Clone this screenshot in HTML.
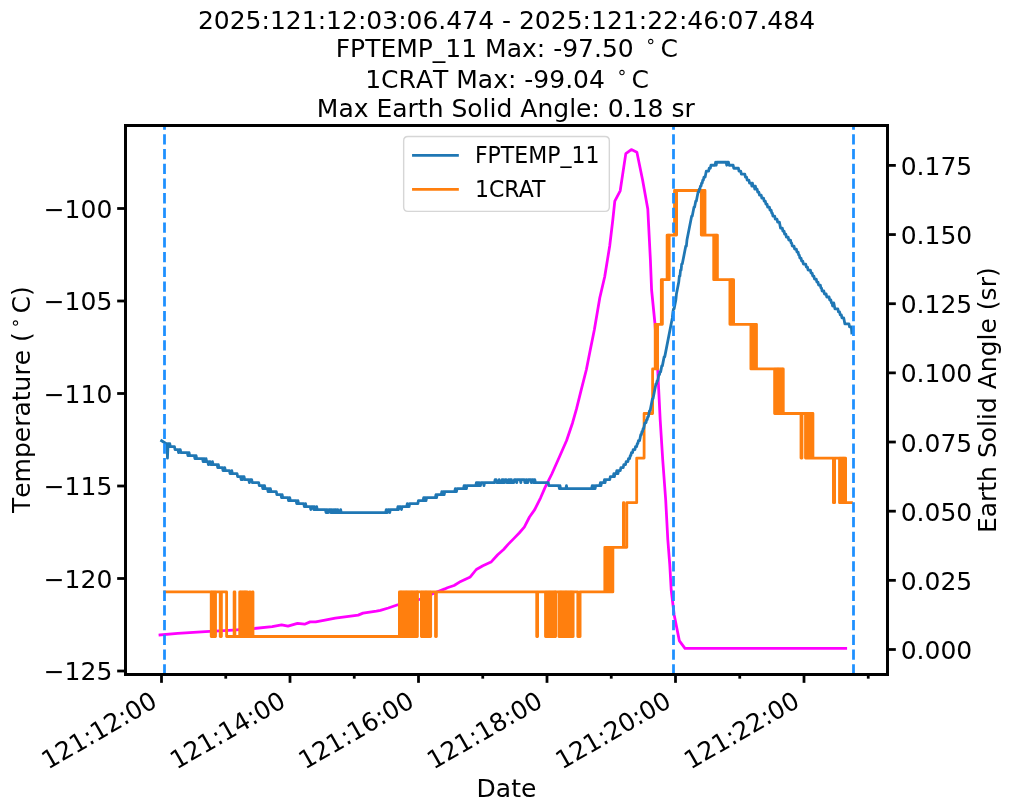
<!DOCTYPE html>
<html><head><meta charset="utf-8"><title>FPTEMP_11 / 1CRAT plot</title>
<style>html,body{margin:0;padding:0;background:#fff;width:1011px;height:811px;overflow:hidden}svg{display:block;will-change:transform}</style>
</head><body>
<svg width="1011" height="811" viewBox="0 0 727.92 583.92" version="1.1">

<defs>
<style type="text/css">*{stroke-linejoin: round; stroke-linecap: butt}</style>
</defs>
<g id="figure_1">
<g id="patch_1">
<path d="M 0 583.92
L 727.92 583.92
L 727.92 0
L 0 0
z
" style="fill: #ffffff"/>
</g>
<g id="axes_1">
<g id="matplotlib.axis_1">
<g id="ytick_1">
<g id="line2d_1">

<g>
<path d="M 0 0
L 6 0
" transform="translate(639 467.64)" style="stroke: #000000; stroke-width: 2"/>
</g>
</g>
<g id="text_1">
<text style="font-size: 18px; font-family: 'DejaVu Sans', 'Liberation Sans', sans-serif; text-anchor: start" x="648.5" y="474.478" transform="rotate(-0 648.5 474.478)">0.000</text>
</g>
</g>
<g id="ytick_2">
<g id="line2d_2">
<g>
<path d="M 0 0
L 6 0
" transform="translate(639 417.846)" style="stroke: #000000; stroke-width: 2"/>
</g>
</g>
<g id="text_2">
<text style="font-size: 18px; font-family: 'DejaVu Sans', 'Liberation Sans', sans-serif; text-anchor: start" x="648.5" y="424.685" transform="rotate(-0 648.5 424.685)">0.025</text>
</g>
</g>
<g id="ytick_3">
<g id="line2d_3">
<g>
<path d="M 0 0
L 6 0
" transform="translate(639 368.053)" style="stroke: #000000; stroke-width: 2"/>
</g>
</g>
<g id="text_3">
<text style="font-size: 18px; font-family: 'DejaVu Sans', 'Liberation Sans', sans-serif; text-anchor: start" x="648.5" y="374.891" transform="rotate(-0 648.5 374.891)">0.050</text>
</g>
</g>
<g id="ytick_4">
<g id="line2d_4">
<g>
<path d="M 0 0
L 6 0
" transform="translate(639 318.259)" style="stroke: #000000; stroke-width: 2"/>
</g>
</g>
<g id="text_4">
<text style="font-size: 18px; font-family: 'DejaVu Sans', 'Liberation Sans', sans-serif; text-anchor: start" x="648.5" y="325.098" transform="rotate(-0 648.5 325.098)">0.075</text>
</g>
</g>
<g id="ytick_5">
<g id="line2d_5">
<g>
<path d="M 0 0
L 6 0
" transform="translate(639 268.466)" style="stroke: #000000; stroke-width: 2"/>
</g>
</g>
<g id="text_5">
<text style="font-size: 18px; font-family: 'DejaVu Sans', 'Liberation Sans', sans-serif; text-anchor: start" x="648.5" y="275.304" transform="rotate(-0 648.5 275.304)">0.100</text>
</g>
</g>
<g id="ytick_6">
<g id="line2d_6">
<g>
<path d="M 0 0
L 6 0
" transform="translate(639 218.673)" style="stroke: #000000; stroke-width: 2"/>
</g>
</g>
<g id="text_6">
<text style="font-size: 18px; font-family: 'DejaVu Sans', 'Liberation Sans', sans-serif; text-anchor: start" x="648.5" y="225.511" transform="rotate(-0 648.5 225.511)">0.125</text>
</g>
</g>
<g id="ytick_7">
<g id="line2d_7">
<g>
<path d="M 0 0
L 6 0
" transform="translate(639 168.879)" style="stroke: #000000; stroke-width: 2"/>
</g>
</g>
<g id="text_7">
<text style="font-size: 18px; font-family: 'DejaVu Sans', 'Liberation Sans', sans-serif; text-anchor: start" x="648.5" y="175.718" transform="rotate(-0 648.5 175.718)">0.150</text>
</g>
</g>
<g id="ytick_8">
<g id="line2d_8">
<g>
<path d="M 0 0
L 6 0
" transform="translate(639 119.086)" style="stroke: #000000; stroke-width: 2"/>
</g>
</g>
<g id="text_8">
<text style="font-size: 18px; font-family: 'DejaVu Sans', 'Liberation Sans', sans-serif; text-anchor: start" x="648.5" y="125.924" transform="rotate(-0 648.5 125.924)">0.175</text>
</g>
</g>
<g id="ylab2" transform="translate(-0.317 0.144)">
<text style="font-size: 18px; font-family: 'DejaVu Sans', 'Liberation Sans', sans-serif; text-anchor: middle" x="717.707" y="288" transform="rotate(-90 717.707 288)">Earth Solid Angle (sr)</text>
</g>
</g>
<g id="line2d_9">
<path d="M 115.2 457.2
L 127.944 455.976
L 147.888 454.824
L 167.832 453.672
L 182.304 452.592
L 195.984 451.152
L 202.752 449.928
L 207.36 450.864
L 214.2 448.848
L 219.312 449.424
L 223.272 447.768
L 227.304 447.768
L 234 446.544
L 241.416 445.104
L 251.064 443.736
L 257.904 442.872
L 261.36 441.432
L 271.008 439.992
L 273.888 439.416
L 279.576 437.76
L 286.416 435.456
L 302.04 431.64
L 314.928 426.024
L 320.256 424.008
L 322.128 423.144
L 326.952 421.56
L 331.704 418.608
L 338.616 415.368
L 342.936 410.04
L 347.688 407.376
L 353.52 404.712
L 358.344 399.384
L 362.592 395.64
L 365.832 391.968
L 370.08 387.648
L 373.824 383.76
L 377.496 379.512
L 381.24 372.24
L 384.984 366.912
L 389.232 358.416
L 392.472 350.928
L 397.296 341.28
L 402.984 328.536
L 407.952 317.16
L 412.272 304.344
L 415.08 294.408
L 418.608 280.224
L 422.208 266.04
L 425.016 251.784
L 427.896 237.6
L 431.856 214.416
L 435.384 199.296
L 438.984 177.12
L 441.216 158.4
L 442.656 144.864
L 446.544 137.376
L 450.576 110.592
L 454.536 107.712
L 458.568 109.656
L 462.672 129.6
L 466.416 150.48
L 468.288 187.2
L 469.152 208.8
L 471.6 233.28
L 473.472 264.744
L 475.344 302.4
L 477.144 330.84
L 479.304 360
L 480.816 388.44
L 482.256 406.872
L 483.264 424.8
L 485.424 442.8
L 489.168 461.448
L 493.2 466.848
L 608.904 466.848
" clip-path="url(#p6ccd2aaa40)" style="fill: none; stroke: #ff00ff; stroke-width: 2; stroke-linecap: square"/>
</g>
<g id="patch_2">
<path d="M 90.36 485.64
L 90.36 90.36
" style="fill: none; stroke: #000000; stroke-width: 2; stroke-linejoin: miter; stroke-linecap: square"/>
</g>
<g id="patch_3">
<path d="M 639 485.64
L 639 90.36
" style="fill: none; stroke: #000000; stroke-width: 2; stroke-linejoin: miter; stroke-linecap: square"/>
</g>
<g id="patch_4">
<path d="M 90.36 485.64
L 639 485.64
" style="fill: none; stroke: #000000; stroke-width: 2; stroke-linejoin: miter; stroke-linecap: square"/>
</g>
<g id="patch_5">
<path d="M 90.36 90.36
L 639 90.36
" style="fill: none; stroke: #000000; stroke-width: 2; stroke-linejoin: miter; stroke-linecap: square"/>
</g>
</g>
<g id="axes_2">
<g id="matplotlib.axis_2">
<g id="xtick_1">
<g id="line2d_10">

<g>
<path d="M 0 0
L 0 6
" transform="translate(116.28 485.64)" style="stroke: #000000; stroke-width: 2"/>
</g>
</g>
<g id="xtl0" transform="translate(0.000 1.138)">
<text style="font-size: 18px; font-family: 'DejaVu Sans', 'Liberation Sans', sans-serif" transform="translate(34.478 553.132) rotate(-30)">121:12:00</text>
</g>
</g>
<g id="xtick_2">
<g id="line2d_11">
<g>
<path d="M 0 0
L 0 6
" transform="translate(208.8 485.64)" style="stroke: #000000; stroke-width: 2"/>
</g>
</g>
<g id="xtl1" transform="translate(0.000 1.138)">
<text style="font-size: 18px; font-family: 'DejaVu Sans', 'Liberation Sans', sans-serif" transform="translate(126.998 553.132) rotate(-30)">121:14:00</text>
</g>
</g>
<g id="xtick_3">
<g id="line2d_12">
<g>
<path d="M 0 0
L 0 6
" transform="translate(301.32 485.64)" style="stroke: #000000; stroke-width: 2"/>
</g>
</g>
<g id="xtl2" transform="translate(0.000 1.138)">
<text style="font-size: 18px; font-family: 'DejaVu Sans', 'Liberation Sans', sans-serif" transform="translate(219.518 553.132) rotate(-30)">121:16:00</text>
</g>
</g>
<g id="xtick_4">
<g id="line2d_13">
<g>
<path d="M 0 0
L 0 6
" transform="translate(393.84 485.64)" style="stroke: #000000; stroke-width: 2"/>
</g>
</g>
<g id="xtl3" transform="translate(0.000 1.138)">
<text style="font-size: 18px; font-family: 'DejaVu Sans', 'Liberation Sans', sans-serif" transform="translate(312.038 553.132) rotate(-30)">121:18:00</text>
</g>
</g>
<g id="xtick_5">
<g id="line2d_14">
<g>
<path d="M 0 0
L 0 6
" transform="translate(486.36 485.64)" style="stroke: #000000; stroke-width: 2"/>
</g>
</g>
<g id="xtl4" transform="translate(0.000 1.138)">
<text style="font-size: 18px; font-family: 'DejaVu Sans', 'Liberation Sans', sans-serif" transform="translate(404.558 553.132) rotate(-30)">121:20:00</text>
</g>
</g>
<g id="xtick_6">
<g id="line2d_15">
<g>
<path d="M 0 0
L 0 6
" transform="translate(578.88 485.64)" style="stroke: #000000; stroke-width: 2"/>
</g>
</g>
<g id="xtl5" transform="translate(0.000 1.138)">
<text style="font-size: 18px; font-family: 'DejaVu Sans', 'Liberation Sans', sans-serif" transform="translate(497.078 553.132) rotate(-30)">121:22:00</text>
</g>
</g>
<g id="xtick_7">
<g id="line2d_16">

<g>
<path d="M 0 0
L 0 3
" transform="translate(162.54 485.64)" style="stroke: #000000; stroke-width: 2"/>
</g>
</g>
</g>
<g id="xtick_8">
<g id="line2d_17">
<g>
<path d="M 0 0
L 0 3
" transform="translate(255.06 485.64)" style="stroke: #000000; stroke-width: 2"/>
</g>
</g>
</g>
<g id="xtick_9">
<g id="line2d_18">
<g>
<path d="M 0 0
L 0 3
" transform="translate(347.58 485.64)" style="stroke: #000000; stroke-width: 2"/>
</g>
</g>
</g>
<g id="xtick_10">
<g id="line2d_19">
<g>
<path d="M 0 0
L 0 3
" transform="translate(440.1 485.64)" style="stroke: #000000; stroke-width: 2"/>
</g>
</g>
</g>
<g id="xtick_11">
<g id="line2d_20">
<g>
<path d="M 0 0
L 0 3
" transform="translate(532.62 485.64)" style="stroke: #000000; stroke-width: 2"/>
</g>
</g>
</g>
<g id="xtick_12">
<g id="line2d_21">
<g>
<path d="M 0 0
L 0 3
" transform="translate(625.14 485.64)" style="stroke: #000000; stroke-width: 2"/>
</g>
</g>
</g>
<g id="xlab">
<text style="font-size: 18px; font-family: 'DejaVu Sans', 'Liberation Sans', sans-serif; text-anchor: middle" x="364.68" y="574.051" transform="rotate(-0 364.68 574.051)">Date</text>
</g>
</g>
<g id="matplotlib.axis_3">
<g id="ytick_9">
<g id="line2d_22">

<g>
<path d="M 0 0
L -6 0
" transform="translate(90.36 483.12)" style="stroke: #000000; stroke-width: 2"/>
</g>
</g>
<g id="text_9">
<text style="font-size: 18px; font-family: 'DejaVu Sans', 'Liberation Sans', sans-serif; text-anchor: end" x="80.86" y="489.958" transform="rotate(-0 80.86 489.958)">−125</text>
</g>
</g>
<g id="ytick_10">
<g id="line2d_23">
<g>
<path d="M 0 0
L -6 0
" transform="translate(90.36 416.52)" style="stroke: #000000; stroke-width: 2"/>
</g>
</g>
<g id="text_10">
<text style="font-size: 18px; font-family: 'DejaVu Sans', 'Liberation Sans', sans-serif; text-anchor: end" x="80.86" y="423.358" transform="rotate(-0 80.86 423.358)">−120</text>
</g>
</g>
<g id="ytick_11">
<g id="line2d_24">
<g>
<path d="M 0 0
L -6 0
" transform="translate(90.36 349.92)" style="stroke: #000000; stroke-width: 2"/>
</g>
</g>
<g id="text_11">
<text style="font-size: 18px; font-family: 'DejaVu Sans', 'Liberation Sans', sans-serif; text-anchor: end" x="80.86" y="356.758" transform="rotate(-0 80.86 356.758)">−115</text>
</g>
</g>
<g id="ytick_12">
<g id="line2d_25">
<g>
<path d="M 0 0
L -6 0
" transform="translate(90.36 283.32)" style="stroke: #000000; stroke-width: 2"/>
</g>
</g>
<g id="text_12">
<text style="font-size: 18px; font-family: 'DejaVu Sans', 'Liberation Sans', sans-serif; text-anchor: end" x="80.86" y="290.158" transform="rotate(-0 80.86 290.158)">−110</text>
</g>
</g>
<g id="ytick_13">
<g id="line2d_26">
<g>
<path d="M 0 0
L -6 0
" transform="translate(90.36 216.72)" style="stroke: #000000; stroke-width: 2"/>
</g>
</g>
<g id="text_13">
<text style="font-size: 18px; font-family: 'DejaVu Sans', 'Liberation Sans', sans-serif; text-anchor: end" x="80.86" y="223.558" transform="rotate(-0 80.86 223.558)">−105</text>
</g>
</g>
<g id="ytick_14">
<g id="line2d_27">
<g>
<path d="M 0 0
L -6 0
" transform="translate(90.36 150.12)" style="stroke: #000000; stroke-width: 2"/>
</g>
</g>
<g id="text_14">
<text style="font-size: 18px; font-family: 'DejaVu Sans', 'Liberation Sans', sans-serif; text-anchor: end" x="80.86" y="156.958" transform="rotate(-0 80.86 156.958)">−100</text>
</g>
</g>
<g id="ylab1" transform="translate(-1.440 -0.288)">

<g transform="translate(23.639 369.72) rotate(-90)">
<text>
<tspan x="0" y="-0.343" style="font-size: 18px; font-family: 'DejaVu Sans', 'Liberation Sans', sans-serif">T</tspan>
<tspan x="10.995" y="-0.343" style="font-size: 18px; font-family: 'DejaVu Sans', 'Liberation Sans', sans-serif">e</tspan>
<tspan x="22.069" y="-0.343" style="font-size: 18px; font-family: 'DejaVu Sans', 'Liberation Sans', sans-serif">m</tspan>
<tspan x="39.603" y="-0.343" style="font-size: 18px; font-family: 'DejaVu Sans', 'Liberation Sans', sans-serif">p</tspan>
<tspan x="51.029" y="-0.343" style="font-size: 18px; font-family: 'DejaVu Sans', 'Liberation Sans', sans-serif">e</tspan>
<tspan x="62.103" y="-0.343" style="font-size: 18px; font-family: 'DejaVu Sans', 'Liberation Sans', sans-serif">r</tspan>
<tspan x="69.503" y="-0.343" style="font-size: 18px; font-family: 'DejaVu Sans', 'Liberation Sans', sans-serif">a</tspan>
<tspan x="80.534" y="-0.343" style="font-size: 18px; font-family: 'DejaVu Sans', 'Liberation Sans', sans-serif">t</tspan>
<tspan x="87.591" y="-0.343" style="font-size: 18px; font-family: 'DejaVu Sans', 'Liberation Sans', sans-serif">u</tspan>
<tspan x="99" y="-0.343" style="font-size: 18px; font-family: 'DejaVu Sans', 'Liberation Sans', sans-serif">r</tspan>
<tspan x="106.400" y="-0.343" style="font-size: 18px; font-family: 'DejaVu Sans', 'Liberation Sans', sans-serif">e</tspan>
<tspan x="117.474" y="-0.343" style="font-size: 18px; font-family: 'DejaVu Sans', 'Liberation Sans', sans-serif"> </tspan>
<tspan x="123.196" y="-0.343" style="font-size: 18px; font-family: 'DejaVu Sans', 'Liberation Sans', sans-serif">(</tspan>
<tspan x="143.680" y="-0.343" style="font-size: 18px; font-family: 'DejaVu Sans', 'Liberation Sans', sans-serif">C</tspan>
<tspan x="156.248" y="-0.343" style="font-size: 18px; font-family: 'DejaVu Sans', 'Liberation Sans', sans-serif">)</tspan>
<tspan x="132.845" y="-7.234" style="font-size: 12.6px; font-family: 'DejaVu Sans', 'Liberation Sans', sans-serif">∘</tspan>
</text>
</g>
</g>
</g>
<g id="line2d_28">
<path d="M 118.656 426.168
L 152.064 426.168
L 152.064 458.28
L 152.510 458.28
L 152.510 426.168
L 152.956 426.168
L 152.956 458.28
L 153.403 458.28
L 153.403 426.168
L 153.849 426.168
L 153.849 458.28
L 154.296 458.28
L 154.296 426.168
L 154.742 426.168
L 154.742 458.28
L 155.188 458.28
L 155.188 426.168
L 158.544 426.168
L 158.544 458.28
L 159.408 458.28
L 159.408 426.168
L 163.152 426.168
L 163.152 458.28
L 168.552 458.28
L 168.552 426.168
L 169.128 426.168
L 169.128 458.28
L 172.584 458.28
L 172.584 426.168
L 173.030 426.168
L 173.030 458.28
L 173.476 458.28
L 173.476 426.168
L 173.923 426.168
L 173.923 458.28
L 174.369 458.28
L 174.369 426.168
L 174.816 426.168
L 174.816 458.28
L 175.262 458.28
L 175.262 426.168
L 175.708 426.168
L 175.708 458.28
L 176.155 458.28
L 176.155 426.168
L 176.601 426.168
L 176.601 458.28
L 177.048 458.28
L 177.048 426.168
L 177.494 426.168
L 177.494 458.28
L 177.940 458.28
L 177.940 426.168
L 178.056 426.168
L 178.056 458.28
L 179.712 458.28
L 179.712 426.168
L 180.144 426.168
L 180.144 458.28
L 181.728 458.28
L 181.728 426.168
L 182.16 426.168
L 182.16 458.28
L 287.568 458.28
L 287.568 426.168
L 288.014 426.168
L 288.014 458.28
L 288.460 458.28
L 288.460 426.168
L 288.907 426.168
L 288.907 458.28
L 289.353 458.28
L 289.353 426.168
L 289.8 426.168
L 289.8 458.28
L 290.246 458.28
L 290.246 426.168
L 290.692 426.168
L 290.692 458.28
L 291.139 458.28
L 291.139 426.168
L 291.585 426.168
L 291.585 458.28
L 292.032 458.28
L 292.032 426.168
L 292.478 426.168
L 292.478 458.28
L 292.924 458.28
L 292.924 426.168
L 293.371 426.168
L 293.371 458.28
L 293.817 458.28
L 293.817 426.168
L 294.264 426.168
L 294.264 458.28
L 294.710 458.28
L 294.710 426.168
L 295.156 426.168
L 295.156 458.28
L 295.603 458.28
L 295.603 426.168
L 296.049 426.168
L 296.049 458.28
L 296.496 458.28
L 296.496 426.168
L 296.942 426.168
L 296.942 458.28
L 297.388 458.28
L 297.388 426.168
L 297.835 426.168
L 297.835 458.28
L 298.281 458.28
L 298.281 426.168
L 298.728 426.168
L 298.728 458.28
L 299.174 458.28
L 299.174 426.168
L 299.620 426.168
L 299.620 458.28
L 300.067 458.28
L 300.067 426.168
L 300.513 426.168
L 300.513 458.28
L 300.6 426.168
L 303.408 426.168
L 303.408 458.28
L 303.854 458.28
L 303.854 426.168
L 304.300 426.168
L 304.300 458.28
L 304.747 458.28
L 304.747 426.168
L 305.193 426.168
L 305.193 458.28
L 305.64 458.28
L 305.64 426.168
L 306.086 426.168
L 306.086 458.28
L 306.532 458.28
L 306.532 426.168
L 306.979 426.168
L 306.979 458.28
L 307.425 458.28
L 307.425 426.168
L 307.872 426.168
L 307.872 458.28
L 308.318 458.28
L 308.318 426.168
L 308.764 426.168
L 308.764 458.28
L 309.211 458.28
L 309.211 426.168
L 309.657 426.168
L 309.657 458.28
L 310.104 458.28
L 310.104 426.168
L 313.56 426.168
L 313.56 458.28
L 314.208 458.28
L 314.208 426.168
L 386.424 426.168
L 386.424 458.28
L 387.072 458.28
L 387.072 426.168
L 392.76 426.168
L 392.76 458.28
L 393.206 458.28
L 393.206 426.168
L 393.652 426.168
L 393.652 458.28
L 394.099 458.28
L 394.099 426.168
L 394.545 426.168
L 394.545 458.28
L 394.992 458.28
L 394.992 426.168
L 395.438 426.168
L 395.438 458.28
L 395.884 458.28
L 395.884 426.168
L 396.331 426.168
L 396.331 458.28
L 396.777 458.28
L 396.777 426.168
L 397.224 426.168
L 397.224 458.28
L 397.670 458.28
L 397.670 426.168
L 398.116 426.168
L 398.116 458.28
L 398.563 458.28
L 398.563 426.168
L 399.009 426.168
L 399.009 458.28
L 399.456 458.28
L 399.456 426.168
L 399.902 426.168
L 399.902 458.28
L 400.032 458.28
L 400.032 426.168
L 402.408 426.168
L 402.408 458.28
L 402.854 458.28
L 402.854 426.168
L 403.300 426.168
L 403.300 458.28
L 403.747 458.28
L 403.747 426.168
L 404.193 426.168
L 404.193 458.28
L 404.64 458.28
L 404.64 426.168
L 405.086 426.168
L 405.086 458.28
L 405.532 458.28
L 405.532 426.168
L 405.979 426.168
L 405.979 458.28
L 406.425 458.28
L 406.425 426.168
L 406.872 426.168
L 406.872 458.28
L 407.318 458.28
L 407.318 426.168
L 407.764 426.168
L 407.764 458.28
L 408.211 458.28
L 408.211 426.168
L 408.657 426.168
L 408.657 458.28
L 409.104 458.28
L 409.104 426.168
L 409.550 426.168
L 409.550 458.28
L 409.996 458.28
L 409.996 426.168
L 410.443 426.168
L 410.443 458.28
L 410.889 458.28
L 410.889 426.168
L 411.336 426.168
L 411.336 458.28
L 411.782 458.28
L 411.782 426.168
L 412.228 426.168
L 412.228 458.28
L 412.675 458.28
L 412.675 426.168
L 416.016 426.168
L 416.016 458.28
L 417.672 458.28
L 417.672 426.168
L 435.456 426.168
L 435.456 394.056
L 435.902 394.056
L 435.902 426.168
L 436.348 426.168
L 436.348 394.056
L 436.795 394.056
L 436.795 426.168
L 437.241 426.168
L 437.241 394.056
L 437.688 394.056
L 437.688 426.168
L 438.134 426.168
L 438.134 394.056
L 438.580 394.056
L 438.580 426.168
L 439.027 426.168
L 439.027 394.056
L 439.473 394.056
L 439.473 426.168
L 439.92 426.168
L 439.92 394.056
L 440.366 394.056
L 440.366 426.168
L 440.812 426.168
L 440.812 394.056
L 441.259 394.056
L 441.259 426.168
L 441.288 394.056
L 448.848 394.056
L 448.848 361.944
L 449.208 361.944
L 449.208 394.056
L 451.296 394.056
L 451.296 361.944
L 458.424 361.944
L 458.424 329.832
L 463.752 329.832
L 463.752 297.72
L 469.872 297.72
L 469.872 265.608
L 471.744 265.608
L 471.744 233.496
L 472.190 233.496
L 472.190 265.608
L 472.636 265.608
L 472.636 233.496
L 473.083 233.496
L 473.083 265.608
L 473.472 265.608
L 473.472 233.496
L 476.136 233.496
L 476.136 201.384
L 476.582 201.384
L 476.582 233.496
L 476.928 233.496
L 476.928 201.384
L 480.312 201.384
L 480.312 169.272
L 480.758 169.272
L 480.758 201.384
L 481.204 201.384
L 481.204 169.272
L 481.651 169.272
L 481.651 201.384
L 481.824 201.384
L 481.824 169.272
L 485.64 169.272
L 485.64 137.16
L 486.086 137.16
L 486.086 169.272
L 486.532 169.272
L 486.532 137.16
L 486.979 137.16
L 486.979 169.272
L 487.152 169.272
L 487.152 137.16
L 504.936 137.16
L 504.936 169.272
L 505.382 169.272
L 505.382 137.16
L 505.828 137.16
L 505.828 169.272
L 506.275 169.272
L 506.275 137.16
L 506.721 137.16
L 506.721 169.272
L 507.168 169.272
L 507.168 137.16
L 507.614 137.16
L 507.614 169.272
L 513.864 169.272
L 513.864 201.384
L 514.310 201.384
L 514.310 169.272
L 514.756 169.272
L 514.756 201.384
L 515.203 201.384
L 515.203 169.272
L 515.649 169.272
L 515.649 201.384
L 516.096 201.384
L 516.096 169.272
L 516.542 169.272
L 516.542 201.384
L 525.528 201.384
L 525.528 233.496
L 525.974 233.496
L 525.974 201.384
L 526.420 201.384
L 526.420 233.496
L 526.867 233.496
L 526.867 201.384
L 527.313 201.384
L 527.313 233.496
L 527.76 233.496
L 527.76 201.384
L 528.192 201.384
L 528.192 233.496
L 540.648 233.496
L 540.648 265.608
L 541.094 265.608
L 541.094 233.496
L 541.540 233.496
L 541.540 265.608
L 541.987 265.608
L 541.987 233.496
L 542.433 233.496
L 542.433 265.608
L 542.88 265.608
L 542.88 233.496
L 543.326 233.496
L 543.326 265.608
L 543.772 265.608
L 543.772 233.496
L 544.219 233.496
L 544.219 265.608
L 544.665 265.608
L 544.665 233.496
L 544.68 265.608
L 557.712 265.608
L 557.712 297.72
L 558.158 297.72
L 558.158 265.608
L 558.604 265.608
L 558.604 297.72
L 559.051 297.72
L 559.051 265.608
L 559.497 265.608
L 559.497 297.72
L 559.944 297.72
L 559.944 265.608
L 560.390 265.608
L 560.390 297.72
L 560.836 297.72
L 560.836 265.608
L 561.283 265.608
L 561.283 297.72
L 561.729 297.72
L 561.729 265.608
L 562.176 265.608
L 562.176 297.72
L 562.622 297.72
L 562.622 265.608
L 563.068 265.608
L 563.068 297.72
L 563.515 297.72
L 563.515 265.608
L 563.961 265.608
L 563.961 297.72
L 576.72 297.72
L 576.72 329.832
L 577.44 329.832
L 577.44 297.72
L 579.96 297.72
L 579.96 329.832
L 580.406 329.832
L 580.406 297.72
L 580.852 297.72
L 580.852 329.832
L 581.299 329.832
L 581.299 297.72
L 581.745 297.72
L 581.745 329.832
L 582.192 329.832
L 582.192 297.72
L 582.638 297.72
L 582.638 329.832
L 583.084 329.832
L 583.084 297.72
L 583.531 297.72
L 583.531 329.832
L 583.977 329.832
L 583.977 297.72
L 584.424 297.72
L 584.424 329.832
L 584.870 329.832
L 584.870 297.72
L 585.316 297.72
L 585.316 329.832
L 600.048 329.832
L 600.048 361.944
L 600.912 361.944
L 600.912 329.832
L 604.44 329.832
L 604.44 361.944
L 604.886 361.944
L 604.886 329.832
L 605.332 329.832
L 605.332 361.944
L 605.779 361.944
L 605.779 329.832
L 606.225 329.832
L 606.225 361.944
L 606.672 361.944
L 606.672 329.832
L 607.118 329.832
L 607.118 361.944
L 607.564 361.944
L 607.564 329.832
L 608.011 329.832
L 608.011 361.944
L 608.457 361.944
L 608.457 329.832
L 608.832 329.832
L 608.832 361.944
L 613.08 361.944
L 613.08 361.944
" clip-path="url(#p061c2c0047)" style="fill: none; stroke: #ff7f0e; stroke-width: 2; stroke-linecap: square"/>
</g>
<g id="line2d_29">
<path d="M 116.352 317.328
L 119.736 319.484
L 120.157 319.484
L 120.578 329.904
L 120.999 319.484
L 121.420 319.484
L 121.842 321.64
L 122.263 319.484
L 122.684 321.64
L 125.632 321.64
L 126.054 323.796
L 128.16 323.796
L 128.581 325.952
L 129.002 323.796
L 129.844 323.796
L 130.266 325.952
L 134.899 325.952
L 135.320 328.108
L 135.741 325.952
L 136.162 325.952
L 136.584 328.108
L 139.953 328.108
L 140.374 330.264
L 140.796 328.108
L 141.217 328.108
L 141.638 330.264
L 145.850 330.264
L 146.271 332.42
L 146.692 330.264
L 147.114 330.264
L 147.535 332.42
L 147.956 332.42
L 148.377 330.264
L 148.798 332.42
L 149.641 332.42
L 150.062 334.576
L 150.483 332.42
L 151.326 332.42
L 151.747 334.576
L 152.589 334.576
L 153.010 332.42
L 153.432 334.576
L 156.380 334.576
L 156.801 336.732
L 157.222 334.576
L 157.644 336.732
L 160.171 336.732
L 160.592 338.888
L 161.013 338.888
L 161.434 336.732
L 161.856 336.732
L 162.277 338.888
L 165.225 338.888
L 165.646 341.044
L 166.489 341.044
L 166.910 338.888
L 167.331 341.044
L 170.701 341.044
L 171.122 343.2
L 173.228 343.2
L 173.649 345.356
L 174.070 343.2
L 174.492 345.356
L 174.913 343.2
L 175.755 343.2
L 176.176 345.356
L 179.125 345.356
L 179.546 347.512
L 179.967 345.356
L 181.231 345.356
L 181.652 347.512
L 186.285 347.512
L 186.706 349.668
L 188.812 349.668
L 189.234 351.824
L 189.655 349.668
L 190.076 351.824
L 190.497 349.668
L 190.918 351.824
L 192.603 351.824
L 193.024 353.98
L 193.446 351.824
L 193.867 351.824
L 194.288 353.98
L 194.709 351.824
L 195.130 353.98
L 198.921 353.98
L 199.342 356.136
L 202.291 356.136
L 202.712 358.292
L 203.133 356.136
L 203.554 358.292
L 207.345 358.292
L 207.766 360.448
L 208.188 358.292
L 208.609 358.292
L 209.030 360.448
L 213.242 360.448
L 213.663 362.604
L 214.084 362.604
L 214.506 360.448
L 214.927 362.604
L 218.718 362.604
L 219.139 364.76
L 219.560 364.76
L 219.981 362.604
L 220.402 364.76
L 223.351 364.76
L 223.772 366.916
L 224.193 364.76
L 225.457 364.76
L 225.878 366.916
L 226.299 364.76
L 226.720 366.916
L 227.563 366.916
L 227.984 364.76
L 228.405 366.916
L 234.302 366.916
L 234.723 369.072
L 235.144 366.916
L 235.566 366.916
L 235.987 369.072
L 236.408 369.072
L 236.829 366.916
L 237.672 366.916
L 238.093 369.072
L 238.514 366.916
L 238.935 369.072
L 239.356 369.072
L 239.778 366.916
L 240.199 369.072
L 240.620 369.072
L 241.041 366.916
L 241.462 369.072
L 241.884 366.916
L 242.305 369.072
L 242.726 369.072
L 243.147 366.916
L 243.568 369.072
L 244.832 369.072
L 245.253 366.916
L 245.674 369.072
L 277.686 369.072
L 278.107 366.916
L 278.528 369.072
L 278.949 369.072
L 279.370 366.916
L 280.213 366.916
L 280.634 369.072
L 281.055 366.916
L 286.11 366.916
L 286.531 364.76
L 286.952 366.916
L 287.373 364.76
L 288.637 364.76
L 289.058 366.916
L 289.479 364.76
L 292.849 364.76
L 293.270 362.604
L 293.691 364.76
L 294.534 364.76
L 294.955 362.604
L 300.852 362.604
L 301.273 360.448
L 304.642 360.448
L 305.064 358.292
L 305.485 360.448
L 305.906 358.292
L 306.327 358.292
L 306.748 360.448
L 307.17 358.292
L 313.488 358.292
L 313.909 356.136
L 314.330 358.292
L 314.751 356.136
L 317.7 356.136
L 318.121 353.98
L 318.542 356.136
L 318.963 356.136
L 319.384 353.98
L 319.806 356.136
L 320.227 353.98
L 327.387 353.98
L 327.808 351.824
L 328.23 353.98
L 328.651 353.98
L 329.072 351.824
L 333.705 351.824
L 334.126 349.668
L 334.548 351.824
L 334.969 349.668
L 335.390 349.668
L 335.811 351.824
L 336.232 349.668
L 342.550 349.668
L 342.972 347.512
L 343.393 349.668
L 343.814 347.512
L 344.235 349.668
L 344.656 347.512
L 345.078 347.512
L 345.499 349.668
L 345.920 349.668
L 346.341 347.512
L 348.026 347.512
L 348.447 349.668
L 348.868 347.512
L 356.029 347.512
L 356.450 345.356
L 357.292 345.356
L 357.714 347.512
L 358.977 347.512
L 359.398 345.356
L 359.82 347.512
L 361.083 347.512
L 361.504 345.356
L 361.926 347.512
L 362.347 345.356
L 362.768 347.512
L 363.189 347.512
L 363.610 345.356
L 364.453 345.356
L 364.874 347.512
L 365.716 347.512
L 366.138 345.356
L 366.559 345.356
L 366.980 347.512
L 367.401 345.356
L 367.822 347.512
L 368.244 345.356
L 368.665 347.512
L 369.928 347.512
L 370.35 345.356
L 371.613 345.356
L 372.034 347.512
L 372.456 345.356
L 374.562 345.356
L 374.983 347.512
L 375.404 345.356
L 377.510 345.356
L 377.931 347.512
L 378.352 347.512
L 378.774 345.356
L 379.195 345.356
L 379.616 347.512
L 380.037 347.512
L 380.458 345.356
L 382.143 345.356
L 382.564 347.512
L 382.986 345.356
L 383.828 345.356
L 384.249 347.512
L 384.670 345.356
L 385.092 345.356
L 385.513 347.512
L 394.779 347.512
L 395.200 349.668
L 402.361 349.668
L 402.782 351.824
L 403.203 349.668
L 403.624 351.824
L 407.415 351.824
L 407.836 349.668
L 408.258 351.824
L 425.948 351.824
L 426.369 349.668
L 426.790 351.824
L 427.212 351.824
L 427.633 349.668
L 428.054 351.824
L 428.475 351.824
L 428.896 349.668
L 431.845 349.668
L 432.266 347.512
L 432.687 349.668
L 433.108 347.512
L 434.793 347.512
L 435.214 345.356
L 435.636 347.512
L 436.057 345.356
L 439.005 345.356
L 439.426 343.2
L 441.532 343.2
L 441.954 341.044
L 442.375 343.2
L 442.796 341.044
L 443.638 341.044
L 444.06 338.888
L 444.481 338.888
L 444.902 341.044
L 445.323 338.888
L 446.587 338.888
L 447.008 336.732
L 448.693 336.732
L 449.114 334.576
L 450.378 334.576
L 450.799 332.42
L 452.062 332.42
L 452.484 330.264
L 453.326 330.264
L 453.747 328.108
L 454.168 328.108
L 454.59 325.952
L 455.432 325.952
L 455.853 323.796
L 457.117 323.796
L 457.538 321.64
L 458.380 321.64
L 458.802 319.484
L 459.223 319.484
L 459.644 317.328
L 460.486 317.328
L 461.329 313.016
L 461.750 313.016
L 462.171 310.86
L 462.592 310.86
L 463.014 308.704
L 463.435 308.704
L 464.277 304.392
L 465.12 304.392
L 465.541 302.236
L 465.962 302.236
L 466.383 300.08
L 466.804 300.08
L 467.647 295.768
L 468.068 295.768
L 469.753 287.144
L 470.174 287.144
L 472.280 276.364
L 472.701 276.364
L 473.122 274.208
L 473.544 274.208
L 474.386 269.896
L 474.807 269.896
L 475.228 267.74
L 475.65 267.74
L 476.492 263.428
L 476.913 263.428
L 478.177 256.96
L 478.598 256.96
L 484.074 228.932
L 484.495 224.62
L 484.916 222.464
L 485.337 222.464
L 486.601 215.996
L 487.022 211.684
L 488.707 203.06
L 489.128 198.748
L 489.549 198.748
L 489.970 194.436
L 490.392 194.436
L 490.813 190.124
L 491.234 190.124
L 493.761 177.188
L 494.182 177.188
L 494.604 172.876
L 497.973 155.628
L 498.394 155.628
L 499.658 149.16
L 500.079 149.16
L 500.922 144.848
L 501.343 144.848
L 502.606 138.38
L 503.028 138.38
L 503.449 136.224
L 503.870 136.224
L 504.291 134.068
L 504.712 134.068
L 505.134 131.912
L 505.555 131.912
L 505.976 129.756
L 506.397 129.756
L 506.818 127.6
L 507.661 127.6
L 508.503 123.288
L 510.188 123.288
L 510.609 121.132
L 511.452 121.132
L 511.873 118.976
L 514.821 118.976
L 515.242 116.82
L 515.664 118.976
L 516.085 116.82
L 522.824 116.82
L 523.245 118.976
L 523.666 116.82
L 524.509 116.82
L 524.930 118.976
L 527.878 118.976
L 528.3 121.132
L 531.669 121.132
L 532.090 123.288
L 533.354 123.288
L 533.775 125.444
L 536.302 125.444
L 536.724 127.6
L 537.566 127.6
L 537.987 129.756
L 539.251 129.756
L 539.672 131.912
L 540.936 131.912
L 541.357 134.068
L 541.778 131.912
L 542.199 134.068
L 543.042 134.068
L 543.463 136.224
L 543.884 134.068
L 544.305 136.224
L 545.148 136.224
L 545.569 138.38
L 546.411 138.38
L 546.832 140.536
L 548.096 140.536
L 548.517 142.692
L 549.781 142.692
L 550.202 144.848
L 551.044 144.848
L 551.466 147.004
L 552.308 147.004
L 552.729 149.16
L 553.993 149.16
L 554.414 151.316
L 555.256 151.316
L 555.678 153.472
L 556.099 153.472
L 556.520 155.628
L 557.784 155.628
L 558.205 157.784
L 559.468 157.784
L 559.89 159.94
L 561.153 159.94
L 561.996 164.252
L 563.259 164.252
L 563.680 166.408
L 564.523 166.408
L 564.944 168.564
L 565.786 168.564
L 566.208 170.72
L 567.471 170.72
L 567.892 172.876
L 569.156 172.876
L 569.577 175.032
L 569.998 175.032
L 570.42 177.188
L 571.683 177.188
L 572.104 179.344
L 573.368 179.344
L 573.789 181.5
L 574.632 181.5
L 575.053 183.656
L 575.474 183.656
L 575.895 185.812
L 576.738 185.812
L 577.159 187.968
L 578.001 187.968
L 578.422 190.124
L 580.107 190.124
L 580.528 192.28
L 581.371 192.28
L 581.792 194.436
L 583.477 194.436
L 583.898 196.592
L 584.740 196.592
L 585.162 198.748
L 586.004 198.748
L 586.425 200.904
L 587.689 200.904
L 588.110 203.06
L 588.952 203.06
L 589.374 205.216
L 590.637 205.216
L 591.058 207.372
L 591.48 207.372
L 591.901 209.528
L 593.164 209.528
L 593.586 211.684
L 594.849 211.684
L 595.270 213.84
L 596.955 213.84
L 597.376 215.996
L 598.219 215.996
L 598.640 218.152
L 599.061 218.152
L 599.482 220.308
L 599.904 218.152
L 600.325 218.152
L 601.167 222.464
L 603.273 222.464
L 603.694 224.62
L 604.537 224.62
L 604.958 226.776
L 605.800 226.776
L 606.222 228.932
L 607.485 228.932
L 608.328 233.244
L 611.276 233.244
L 611.697 235.4
L 612.961 235.4
L 613.296 239.76
L 613.296 239.76
" clip-path="url(#p061c2c0047)" style="fill: none; stroke: #1f77b4; stroke-width: 2; stroke-linecap: square"/>
</g>
<g id="line2d_30">
<path d="M 118.44 485.64
L 118.44 90.36
" clip-path="url(#p061c2c0047)" style="fill: none; stroke-dasharray: 7.4,3.2; stroke-dashoffset: 0; stroke: #1e90ff; stroke-width: 2"/>
</g>
<g id="line2d_31">
<path d="M 484.92 485.64
L 484.92 90.36
" clip-path="url(#p061c2c0047)" style="fill: none; stroke-dasharray: 7.4,3.2; stroke-dashoffset: 0; stroke: #1e90ff; stroke-width: 2"/>
</g>
<g id="line2d_32">
<path d="M 614.52 485.64
L 614.52 90.36
" clip-path="url(#p061c2c0047)" style="fill: none; stroke-dasharray: 7.4,3.2; stroke-dashoffset: 0; stroke: #1e90ff; stroke-width: 2"/>
</g>
<g id="patch_6">
<path d="M 90.36 485.64
L 90.36 90.36
" style="fill: none; stroke: #000000; stroke-width: 2; stroke-linejoin: miter; stroke-linecap: square"/>
</g>
<g id="patch_7">
<path d="M 639 485.64
L 639 90.36
" style="fill: none; stroke: #000000; stroke-width: 2; stroke-linejoin: miter; stroke-linecap: square"/>
</g>
<g id="patch_8">
<path d="M 90.36 485.64
L 639 485.64
" style="fill: none; stroke: #000000; stroke-width: 2; stroke-linejoin: miter; stroke-linecap: square"/>
</g>
<g id="patch_9">
<path d="M 90.36 90.36
L 639 90.36
" style="fill: none; stroke: #000000; stroke-width: 2; stroke-linejoin: miter; stroke-linecap: square"/>
</g>
<g id="legend_1">
<g id="patch_10">
<path d="M 293.803 152.190
L 435.556 152.190
Q 438.724 152.190 438.724 149.022
L 438.724 101.448
Q 438.724 98.28 435.556 98.28
L 293.803 98.28
Q 290.635 98.28 290.635 101.448
L 290.635 149.022
Q 290.635 152.190 293.803 152.190
z
" style="fill: #ffffff; opacity: 0.8; stroke: #cccccc; stroke-linejoin: miter"/>
</g>
<g id="line2d_33">
<path d="M 297.684 111.820
L 313.524 111.820
L 329.364 111.820
" style="fill: none; stroke: #1f77b4; stroke-width: 2; stroke-linecap: square"/>
</g>
<g id="legt0" transform="translate(-0.072 0.000)">
<text style="font-size: 15.84px; font-family: 'DejaVu Sans', 'Liberation Sans', sans-serif; text-anchor: start" x="342.036" y="117.364" transform="translate(0 117.364) scale(1 1.056) translate(0 -117.364)">FPTEMP_11</text>
</g>
<g id="line2d_34">
<path d="M 297.684 136.303
L 313.524 136.303
L 329.364 136.303
" style="fill: none; stroke: #ff7f0e; stroke-width: 2; stroke-linecap: square"/>
</g>
<g id="legt1" transform="translate(-0.072 0.000)">
<text style="font-size: 15.84px; font-family: 'DejaVu Sans', 'Liberation Sans', sans-serif; text-anchor: start" x="342.036" y="141.847" transform="translate(0 141.847) scale(1 1.056) translate(0 -141.847)">1CRAT</text>
</g>
</g>
</g>
<g id="title0">
<text style="font-size: 18px; font-family: 'DejaVu Sans', 'Liberation Sans', sans-serif; text-anchor: middle" x="364.68" y="20.736" transform="rotate(-0 364.68 20.736)">2025:121:12:03:06.474 - 2025:121:22:46:07.484</text>
</g>
<g id="title1" transform="translate(0.216 0.648)">

<g transform="translate(241.47 40.968)">
<text>
<tspan x="0" y="-0.640" style="font-size: 18px; font-family: 'DejaVu Sans', 'Liberation Sans', sans-serif">F</tspan>
<tspan x="10.353" y="-0.640" style="font-size: 18px; font-family: 'DejaVu Sans', 'Liberation Sans', sans-serif">P</tspan>
<tspan x="21.208" y="-0.640" style="font-size: 18px; font-family: 'DejaVu Sans', 'Liberation Sans', sans-serif">T</tspan>
<tspan x="32.203" y="-0.640" style="font-size: 18px; font-family: 'DejaVu Sans', 'Liberation Sans', sans-serif">E</tspan>
<tspan x="43.576" y="-0.640" style="font-size: 18px; font-family: 'DejaVu Sans', 'Liberation Sans', sans-serif">M</tspan>
<tspan x="59.106" y="-0.640" style="font-size: 18px; font-family: 'DejaVu Sans', 'Liberation Sans', sans-serif">P</tspan>
<tspan x="69.960" y="-0.640" style="font-size: 18px; font-family: 'DejaVu Sans', 'Liberation Sans', sans-serif">_</tspan>
<tspan x="78.960" y="-0.640" style="font-size: 18px; font-family: 'DejaVu Sans', 'Liberation Sans', sans-serif">1</tspan>
<tspan x="90.413" y="-0.640" style="font-size: 18px; font-family: 'DejaVu Sans', 'Liberation Sans', sans-serif">1</tspan>
<tspan x="101.865" y="-0.640" style="font-size: 18px; font-family: 'DejaVu Sans', 'Liberation Sans', sans-serif"> </tspan>
<tspan x="107.586" y="-0.640" style="font-size: 18px; font-family: 'DejaVu Sans', 'Liberation Sans', sans-serif">M</tspan>
<tspan x="123.117" y="-0.640" style="font-size: 18px; font-family: 'DejaVu Sans', 'Liberation Sans', sans-serif">a</tspan>
<tspan x="134.147" y="-0.640" style="font-size: 18px; font-family: 'DejaVu Sans', 'Liberation Sans', sans-serif">x</tspan>
<tspan x="144.799" y="-0.640" style="font-size: 18px; font-family: 'DejaVu Sans', 'Liberation Sans', sans-serif">:</tspan>
<tspan x="150.864" y="-0.640" style="font-size: 18px; font-family: 'DejaVu Sans', 'Liberation Sans', sans-serif"> </tspan>
<tspan x="156.585" y="-0.640" style="font-size: 18px; font-family: 'DejaVu Sans', 'Liberation Sans', sans-serif">-</tspan>
<tspan x="163.081" y="-0.640" style="font-size: 18px; font-family: 'DejaVu Sans', 'Liberation Sans', sans-serif">9</tspan>
<tspan x="174.533" y="-0.640" style="font-size: 18px; font-family: 'DejaVu Sans', 'Liberation Sans', sans-serif">7</tspan>
<tspan x="185.985" y="-0.640" style="font-size: 18px; font-family: 'DejaVu Sans', 'Liberation Sans', sans-serif">.</tspan>
<tspan x="191.707" y="-0.640" style="font-size: 18px; font-family: 'DejaVu Sans', 'Liberation Sans', sans-serif">5</tspan>
<tspan x="203.159" y="-0.640" style="font-size: 18px; font-family: 'DejaVu Sans', 'Liberation Sans', sans-serif">0</tspan>
<tspan x="214.611" y="-0.640" style="font-size: 18px; font-family: 'DejaVu Sans', 'Liberation Sans', sans-serif"> </tspan>
<tspan x="233.794" y="-0.640" style="font-size: 18px; font-family: 'DejaVu Sans', 'Liberation Sans', sans-serif">C</tspan>
<tspan x="222.960" y="-7.531" style="font-size: 12.6px; font-family: 'DejaVu Sans', 'Liberation Sans', sans-serif">∘</tspan>
</text>
</g>
</g>
<g id="title2" transform="translate(0.504 0.720)">

<g transform="translate(262.44 63.216)">
<text>
<tspan x="0" y="-0.640" style="font-size: 18px; font-family: 'DejaVu Sans', 'Liberation Sans', sans-serif">1</tspan>
<tspan x="11.452" y="-0.640" style="font-size: 18px; font-family: 'DejaVu Sans', 'Liberation Sans', sans-serif">C</tspan>
<tspan x="24.020" y="-0.640" style="font-size: 18px; font-family: 'DejaVu Sans', 'Liberation Sans', sans-serif">R</tspan>
<tspan x="36.527" y="-0.640" style="font-size: 18px; font-family: 'DejaVu Sans', 'Liberation Sans', sans-serif">A</tspan>
<tspan x="48.840" y="-0.640" style="font-size: 18px; font-family: 'DejaVu Sans', 'Liberation Sans', sans-serif">T</tspan>
<tspan x="59.835" y="-0.640" style="font-size: 18px; font-family: 'DejaVu Sans', 'Liberation Sans', sans-serif"> </tspan>
<tspan x="65.557" y="-0.640" style="font-size: 18px; font-family: 'DejaVu Sans', 'Liberation Sans', sans-serif">M</tspan>
<tspan x="81.087" y="-0.640" style="font-size: 18px; font-family: 'DejaVu Sans', 'Liberation Sans', sans-serif">a</tspan>
<tspan x="92.118" y="-0.640" style="font-size: 18px; font-family: 'DejaVu Sans', 'Liberation Sans', sans-serif">x</tspan>
<tspan x="102.770" y="-0.640" style="font-size: 18px; font-family: 'DejaVu Sans', 'Liberation Sans', sans-serif">:</tspan>
<tspan x="108.834" y="-0.640" style="font-size: 18px; font-family: 'DejaVu Sans', 'Liberation Sans', sans-serif"> </tspan>
<tspan x="114.556" y="-0.640" style="font-size: 18px; font-family: 'DejaVu Sans', 'Liberation Sans', sans-serif">-</tspan>
<tspan x="121.051" y="-0.640" style="font-size: 18px; font-family: 'DejaVu Sans', 'Liberation Sans', sans-serif">9</tspan>
<tspan x="132.503" y="-0.640" style="font-size: 18px; font-family: 'DejaVu Sans', 'Liberation Sans', sans-serif">9</tspan>
<tspan x="143.956" y="-0.640" style="font-size: 18px; font-family: 'DejaVu Sans', 'Liberation Sans', sans-serif">.</tspan>
<tspan x="149.677" y="-0.640" style="font-size: 18px; font-family: 'DejaVu Sans', 'Liberation Sans', sans-serif">0</tspan>
<tspan x="161.129" y="-0.640" style="font-size: 18px; font-family: 'DejaVu Sans', 'Liberation Sans', sans-serif">4</tspan>
<tspan x="172.582" y="-0.640" style="font-size: 18px; font-family: 'DejaVu Sans', 'Liberation Sans', sans-serif"> </tspan>
<tspan x="191.765" y="-0.640" style="font-size: 18px; font-family: 'DejaVu Sans', 'Liberation Sans', sans-serif">C</tspan>
<tspan x="180.930" y="-7.531" style="font-size: 12.6px; font-family: 'DejaVu Sans', 'Liberation Sans', sans-serif">∘</tspan>
</text>
</g>
</g>
<g id="title3" transform="translate(-0.504 0.000)">
<text style="font-size: 18px; font-family: 'DejaVu Sans', 'Liberation Sans', sans-serif; text-anchor: middle" x="364.68" y="84.168" transform="rotate(-0 364.68 84.168)">Max Earth Solid Angle: 0.18 sr</text>
</g>
</g>
<defs>
<clipPath id="p6ccd2aaa40">
<rect x="90.36" y="90.36" width="548.64" height="395.28"/>
</clipPath>
<clipPath id="p061c2c0047">
<rect x="90.36" y="90.36" width="548.64" height="395.28"/>
</clipPath>
</defs>
</svg>

</body></html>
